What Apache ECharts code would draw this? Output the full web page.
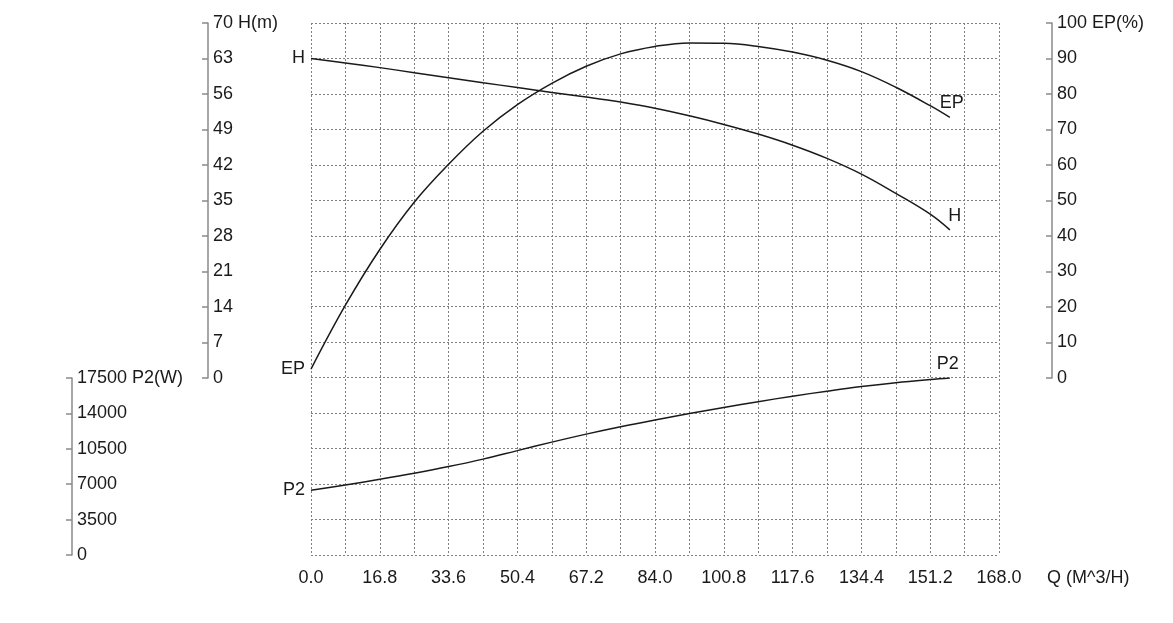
<!DOCTYPE html>
<html>
<head>
<meta charset="utf-8">
<title>Pump curve</title>
<script src="https://cdn.jsdelivr.net/npm/echarts@6/dist/echarts.min.js"></script>
<style>
    html, body { margin: 0; padding: 0; background: #fff; }
    #chart { width: 1173px; height: 623px; }
</style>
</head>
<body>
<div id="chart"></div>
<script>
// 流量 Q (M^3/H)
var flowQ = [0, 8.4, 16.8, 25.2, 33.6, 42, 50.4, 58.8, 67.2, 75.6, 84, 92.4, 100.8, 109.2, 117.6, 126, 134.4, 142.8, 151.2, 156];
// 扬程 H (m)
var headH = [63, 62.1, 61.2, 60.2, 59.2, 58.2, 57.3, 56.3, 55.4, 54.4, 53.2, 51.7, 50.0, 48.1, 45.9, 43.3, 40.2, 36.4, 32.3, 29.2];
// 效率 EP (%)
var effEP = [2.5, 20.5, 36.2, 49.5, 60.2, 69.5, 77.0, 83.0, 87.8, 91.3, 93.4, 94.4, 94.3, 93.4, 91.8, 89.5, 86.3, 81.9, 76.7, 73.4];
// 功率 P2 (W)
var powerP2 = [6400, 6920, 7480, 8080, 8740, 9480, 10320, 11160, 11950, 12680, 13350, 13980, 14580, 15160, 15700, 16200, 16660, 17040, 17350, 17500];

var fontName = 'Liberation Sans, Arial, sans-serif';
var textColor = '#1a1a1a';
var axisGray = '#8a8a8a';

// 曲线数据, 首尾点带名字
function buildData(values, name, endOffset) {
    return flowQ.map(function (q, i) {
        var item = { value: [q, values[i]] };
        if (i === 0) {
            item.label = { show: true, position: 'left', distance: 6, formatter: name };
        } else if (i === flowQ.length - 1) {
            item.label = { show: true, position: 'top', distance: 5, offset: endOffset, formatter: name };
        }
        return item;
    });
}

function sideAxis(gridIndex, pos, offset, max, interval, unit, tickInside) {
    return {
        type: 'value',
        gridIndex: gridIndex,
        position: pos,
        offset: offset,
        min: 0,
        max: max,
        interval: interval,
        axisLine: { show: true, onZero: false, lineStyle: { color: axisGray, width: 1.5 } },
        axisTick: { show: true, inside: tickInside, length: 6, lineStyle: { color: axisGray, width: 1.5 } },
        axisLabel: {
            inside: !tickInside,
            margin: 5,
            color: textColor,
            fontSize: 18,
            fontFamily: fontName,
            formatter: function (v) { return v === max ? v + ' ' + unit : v; }
        },
        splitLine: { show: false }
    };
}

var chart = echarts.init(document.getElementById('chart'));
var lineStyle = { color: '#1a1a1a', width: 1.5 };
var labelStyle = { color: textColor, fontSize: 18, fontFamily: fontName };

function curve(name, xIdx, yIdx, values, endOffset) {
    return {
        name: name, type: 'line', xAxisIndex: xIdx, yAxisIndex: yIdx,
        smooth: 0.4,
        symbol: 'circle', symbolSize: 0, showSymbol: true, showAllSymbol: true,
        itemStyle: { color: '#1a1a1a' },
        lineStyle: lineStyle, label: labelStyle,
        data: buildData(values, name, endOffset)
    };
}

var option = {
    animation: false,
    backgroundColor: '#fff',
    grid: [
        { left: 311, right: 174, top: 23, bottom: 68 },   // 网格
        { left: 311, right: 174, top: 23, height: 355 },  // H / EP
        { left: 311, right: 174, top: 378, height: 177 }  // P2
    ],
    xAxis: [
        {
            type: 'value', gridIndex: 0, min: 0, max: 168, interval: 8.4,
            name: 'Q (M^3/H)', nameLocation: 'end', nameGap: 48,
            nameTextStyle: { color: textColor, fontSize: 18, fontFamily: fontName, verticalAlign: 'top', padding: [14, 0, 0, 0] },
            axisLine: { show: false },
            axisTick: { show: false },
            axisLabel: {
                margin: 14,
                color: textColor,
                fontSize: 18,
                fontFamily: fontName,
                formatter: function (v) {
                    return Math.round(v / 8.4) % 2 === 0 ? v.toFixed(1) : '';
                }
            },
            splitLine: { show: true, lineStyle: { color: '#808080', type: [2, 2], width: 1 } }
        },
        { type: 'value', gridIndex: 1, min: 0, max: 168, show: false },
        { type: 'value', gridIndex: 2, min: 0, max: 168, show: false }
    ],
    yAxis: [
        {
            type: 'value', gridIndex: 0, min: 0, max: 15, interval: 1,
            axisLine: { show: false }, axisTick: { show: false }, axisLabel: { show: false },
            splitLine: { show: true, lineStyle: { color: '#808080', type: [2, 2], width: 1 } }
        },
        sideAxis(1, 'left', 103, 70, 7, 'H(m)', false),
        sideAxis(1, 'right', 53, 100, 10, 'EP(%)', true),
        sideAxis(2, 'left', 239, 17500, 3500, 'P2(W)', false)
    ],
    series: [
        curve('H', 1, 1, headH, [5, 0]),
        curve('EP', 1, 2, effEP, [2, 0]),
        curve('P2', 2, 3, powerP2, [-2, 0])
    ]
};
chart.setOption(option);
</script>
</body>
</html>
